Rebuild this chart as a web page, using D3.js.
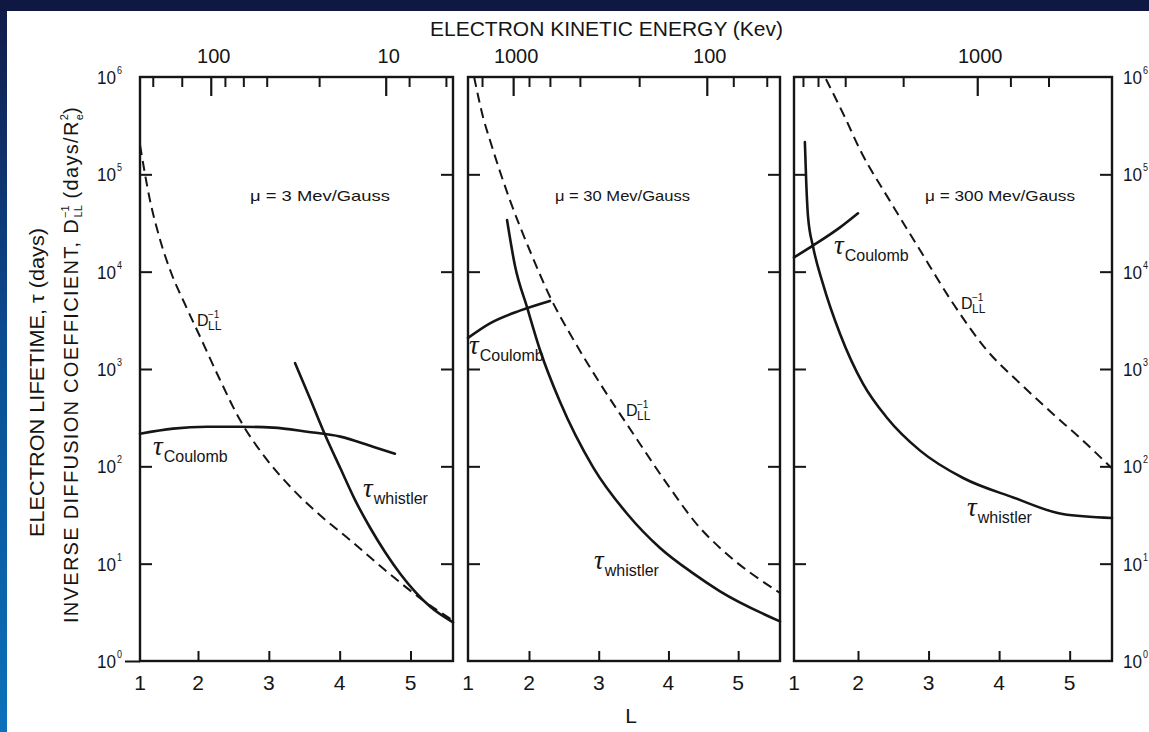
<!DOCTYPE html>
<html>
<head>
<meta charset="utf-8">
<script src="https://cdn.jsdelivr.net/npm/d3@7"></script>
<style>
  body { margin: 0; background: #fff; }
  svg { display: block; }
  text { font-family: "Liberation Sans", Arial, sans-serif; fill: #151515; }
</style>
</head>
<body>
<div id="chart"></div>
<script>
/////////////// data ///////////////

// shared axes
const lTickValues = [2, 3, 4, 5];
const lTickLabels = [1, 2, 3, 4, 5];
const decadeValues = [1, 10, 100, 1e3, 1e4, 1e5, 1e6];
const decadeExponents = ["0", "1", "2", "3", "4", "5", "6"];
const muLabels = ["3", "30", "300"];

// electron kinetic energy ticks on the top edge, given as the L where each one sits
const energyMinorL1 = [1.22, 1.72, 2.38, 2.64, 2.97, 3.71, 4.98, 5.50];
const energyMajorL1 = [2.18, 4.65];
const energyText1 = ["100", "10"];
const energyMinorL2 = [1.23, 2.0, 2.30, 2.73, 3.58, 4.93, 5.41];
const energyMajorL2 = [1.74, 4.55];
const energyText2 = ["1000", "100"];
const energyMinorL3 = [1.14, 1.375, 1.80, 2.64, 4.16, 4.70];
const energyMajorL3 = [3.69];
const energyText3 = ["1000"];

// mu = 3 Mev/Gauss
const dllL_3 = [1.0, 1.17, 1.345, 1.55, 1.78, 2.03, 2.31, 2.59, 2.95, 3.30, 3.72, 4.15, 4.64, 5.14, 5.6];
const dllV_3 = [200000, 55000, 21400, 9300, 4570, 2140, 776, 302, 123, 62, 31.6, 17.4, 8.6, 4.4, 2.6];
const coulL_3 = [1.0, 1.57, 2.13, 2.59, 3.06, 3.54, 4.01, 4.47, 4.78];
const coulV_3 = [216, 244, 255, 255, 250, 227, 202, 159, 135];
const whisL_3 = [3.37, 3.58, 3.79, 4.01, 4.22, 4.43, 4.64, 4.86, 5.07, 5.28, 5.6];
const whisV_3 = [1150, 501, 214, 95.5, 44.7, 23.4, 13.2, 7.8, 5.1, 3.6, 2.5];

// mu = 30 Mev/Gauss
const dllL_30 = [1.1, 1.25, 1.36, 1.69, 2.01, 2.33, 2.59, 3.02, 3.49, 3.98, 4.45, 4.74, 5.6];
const dllV_30 = [1e6, 380000, 224000, 53700, 16600, 5010, 2290, 708, 219, 66, 23.4, 14.5, 5.0];
const coulL_30 = [1.0, 1.36, 1.85, 2.30];
const coulV_30 = [2090, 2950, 3980, 5010];
const whisL_30 = [1.64, 1.77, 1.97, 2.16, 2.44, 2.92, 3.41, 3.88, 4.36, 4.74, 5.6];
const whisV_30 = [33900, 11500, 4270, 1550, 468, 97.7, 32.4, 14.5, 7.9, 5.2, 2.55];

// mu = 300 Mev/Gauss
const dllL_300 = [1.5, 1.80, 2.03, 2.45, 2.88, 3.35, 3.83, 4.30, 4.76, 5.15, 5.6];
const dllV_300 = [950000, 380000, 178000, 53700, 16600, 4680, 1550, 708, 347, 195, 95];
const coulL_300 = [1.0, 1.30, 1.72, 2.0];
const coulV_300 = [14000, 18600, 28500, 39800];
const whisL_300 = [1.17, 1.19, 1.22, 1.30, 1.45, 1.72, 2.07, 2.41, 2.88, 3.49, 4.20, 4.90, 5.6];
const whisV_300 = [214000, 87100, 36300, 17800, 7590, 2290, 708, 316, 145, 75.9, 47.9, 32.4, 29.5];

/////////////// layout ///////////////
const W = 1149, H = 732;
const ink = "#151515";

const panels = [
  { left: 140, two: 198, right: 453, mu: muLabels[0], muX: 250, muW: 140,
    dll: [dllL_3, dllV_3], coul: [coulL_3, coulV_3], whis: [whisL_3, whisV_3],
    eMinor: energyMinorL1, eMajor: energyMajorL1, eText: energyText1,
    dLab: [197, 326], cLab: [153, 455], wLab: [363, 497] },
  { left: 468, two: 529, right: 780, mu: muLabels[1], muX: 555, muW: 135,
    dll: [dllL_30, dllV_30], coul: [coulL_30, coulV_30], whis: [whisL_30, whisV_30],
    eMinor: energyMinorL2, eMajor: energyMajorL2, eText: energyText2,
    dLab: [626, 416], cLab: [469, 354], wLab: [594, 569] },
  { left: 794, two: 858, right: 1112, mu: muLabels[2], muX: 925, muW: 150,
    dll: [dllL_300, dllV_300], coul: [coulL_300, coulV_300], whis: [whisL_300, whisV_300],
    eMinor: energyMinorL3, eMajor: energyMajorL3, eText: energyText3,
    dLab: [961, 309], cLab: [834, 254], wLab: [967, 516] }
];

const svg = d3.select("#chart").append("svg")
  .attr("width", W)
  .attr("height", H);

// slide background: white page, navy band on top, blue strip on the left
const grad = svg.append("defs").append("linearGradient")
  .attr("id", "edge").attr("x1", 0).attr("y1", 0).attr("x2", 0).attr("y2", 1);
grad.append("stop").attr("offset", "0%").attr("stop-color", "#121a48");
grad.append("stop").attr("offset", "45%").attr("stop-color", "#0b4b8f");
grad.append("stop").attr("offset", "100%").attr("stop-color", "#0a72bb");

svg.append("rect").attr("width", W).attr("height", H).attr("fill", "#fff");
svg.append("rect").attr("x", 0).attr("y", 0).attr("width", 7).attr("height", H).attr("fill", "url(#edge)");
svg.append("rect").attr("x", 0).attr("y", 0).attr("width", W).attr("height", 11).attr("fill", "#0f1743");

// one log scale for all three panels
const y = d3.scaleLog().domain([1, 1e6]).range([661, 77]);

function styleAxis(a, w) {
  a.select(".domain").remove();
  a.selectAll("line").attr("stroke", ink).attr("stroke-width", w);
}

function tau(g, pos, sub) {
  const t = g.append("text").attr("x", pos[0]).attr("y", pos[1]);
  t.append("tspan")
    .style("font-family", "'Liberation Serif', serif")
    .style("font-style", "italic")
    .attr("font-size", 27)
    .text("τ");
  t.append("tspan").attr("dy", 7).attr("dx", 1).attr("font-size", 16).text(sub);
}

function dllLabel(g, pos) {
  g.append("text").attr("x", pos[0]).attr("y", pos[1]).attr("font-size", 16).text("D");
  g.append("text").attr("x", pos[0] + 11).attr("y", pos[1] - 8).attr("font-size", 10).text("−1");
  g.append("text").attr("x", pos[0] + 11).attr("y", pos[1] + 4).attr("font-size", 12).text("LL");
}

panels.forEach(function(p, i) {
  const x = d3.scaleLinear().domain([1, 2, 5.6]).range([p.left, p.two, p.right]);
  const g = svg.append("g");

  const line = d3.line()
    .x(d => x(d[0]))
    .y(d => y(d[1]))
    .curve(d3.curveMonotoneX);

  // inverse diffusion coefficient (dashed)
  g.append("path")
    .datum(d3.zip(p.dll[0], p.dll[1]))
    .attr("d", line)
    .attr("fill", "none").attr("stroke", ink)
    .attr("stroke-width", 2).attr("stroke-dasharray", "10,6");

  // Coulomb and whistler lifetimes
  [p.coul, p.whis].forEach(function(c) {
    g.append("path")
      .datum(d3.zip(c[0], c[1]))
      .attr("d", line)
      .attr("fill", "none").attr("stroke", ink)
      .attr("stroke-width", 2.6).attr("stroke-linecap", "round");
  });

  // frame
  g.append("rect")
    .attr("x", p.left).attr("y", y(1e6))
    .attr("width", p.right - p.left).attr("height", y(1) - y(1e6))
    .attr("fill", "none").attr("stroke", ink).attr("stroke-width", 2.4);

  // inward decade ticks on both sides
  g.append("g").attr("transform", "translate(" + p.left + ",0)")
    .call(d3.axisRight(y).tickValues(decadeValues.slice(1, 6)).tickSize(12).tickFormat(""))
    .call(a => styleAxis(a, 2));
  g.append("g").attr("transform", "translate(" + p.right + ",0)")
    .call(d3.axisLeft(y).tickValues(decadeValues.slice(1, 6)).tickSize(12).tickFormat(""))
    .call(a => styleAxis(a, 2));

  // L ticks on the bottom edge
  g.append("g").attr("transform", "translate(0," + y(1) + ")")
    .call(d3.axisTop(x).tickValues(lTickValues).tickSize(10).tickFormat(""))
    .call(a => styleAxis(a, 2));
  g.selectAll(".lLab")
    .data(lTickLabels)
    .enter().append("text")
    .attr("x", d => x(d))
    .attr("y", 690)
    .attr("text-anchor", "middle")
    .attr("font-size", 21)
    .text(d => d);

  // energy ticks on the top edge
  g.append("g").attr("transform", "translate(0," + y(1e6) + ")")
    .call(d3.axisBottom(x).tickValues(p.eMinor).tickSize(10).tickFormat(""))
    .call(a => styleAxis(a, 2));
  g.append("g").attr("transform", "translate(0," + y(1e6) + ")")
    .call(d3.axisBottom(x).tickValues(p.eMajor).tickSize(19).tickFormat(""))
    .call(a => styleAxis(a, 2.2));
  g.selectAll(".eLab")
    .data(p.eMajor)
    .enter().append("text")
    .attr("x", d => x(d) + 3)
    .attr("y", 63)
    .attr("text-anchor", "middle")
    .attr("font-size", 20)
    .text((d, k) => p.eText[k]);

  // annotations
  g.append("text")
    .attr("x", p.muX).attr("y", 201)
    .attr("font-size", 15)
    .attr("textLength", p.muW).attr("lengthAdjust", "spacingAndGlyphs")
    .text("μ = " + p.mu + " Mev/Gauss");
  dllLabel(g, p.dLab);
  tau(g, p.cLab, "Coulomb");
  tau(g, p.wLab, "whistler");
});

// outward 10^0 tick at the lower left
svg.append("g").attr("transform", "translate(140,0)")
  .call(d3.axisLeft(y).tickValues([1]).tickSize(15).tickFormat(""))
  .call(a => styleAxis(a, 2));

// decade labels, left and right: "10" with a small raised exponent, squeezed a little
function decadeLabels(cls, x0) {
  const lab = svg.selectAll("." + cls)
    .data(decadeValues)
    .enter().append("g")
    .attr("class", cls)
    .attr("transform", d => "translate(" + x0 + "," + (y(d) + 7) + ") scale(0.9,1)")
    .append("text");
  lab.append("tspan").attr("font-size", 19).text("10");
  lab.append("tspan")
    .attr("font-size", 10).attr("dx", 1).attr("dy", -10)
    .text((d, k) => decadeExponents[k]);
}
decadeLabels("yl", 97);
decadeLabels("yr", 1123);

// titles
svg.append("text")
  .attr("x", 430).attr("y", 36)
  .attr("font-size", 20)
  .attr("textLength", 353).attr("lengthAdjust", "spacingAndGlyphs")
  .text("ELECTRON KINETIC ENERGY (Kev)");

svg.append("text")
  .attr("x", 631).attr("y", 723)
  .attr("text-anchor", "middle")
  .attr("font-size", 21)
  .text("L");

svg.append("text")
  .attr("transform", "translate(44,537) rotate(-90)")
  .attr("font-size", 20)
  .attr("textLength", 309).attr("lengthAdjust", "spacingAndGlyphs")
  .text("ELECTRON LIFETIME, τ (days)");

const yt = svg.append("text")
  .attr("transform", "translate(78,623) rotate(-90)")
  .attr("font-size", 20);
yt.append("tspan").attr("letter-spacing", 1.3).text("INVERSE DIFFUSION COEFFICIENT, D");
yt.append("tspan").attr("font-size", 11).attr("dy", -9).text("−1");
yt.append("tspan").attr("font-size", 11).attr("dx", -12).attr("dy", 13).text("LL");
yt.append("tspan").attr("letter-spacing", 1.3).attr("dy", -4).text(" (days/R");
yt.append("tspan").attr("font-size", 11).attr("dy", 5).text("e");
yt.append("tspan").attr("font-size", 11).attr("dx", -6).attr("dy", -15).text("2");
yt.append("tspan").attr("dy", 10).text(")");
</script>
</body>
</html>
